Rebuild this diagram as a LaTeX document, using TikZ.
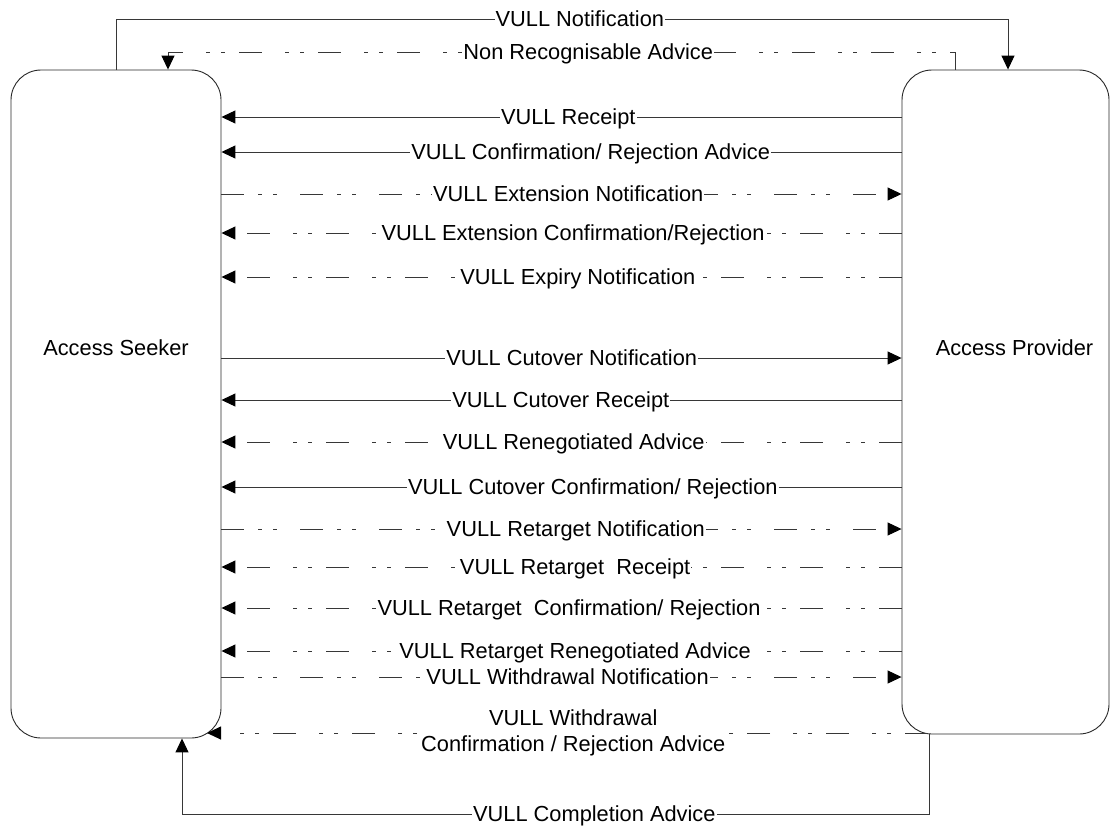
\documentclass[tikz,border=0pt]{standalone}
\usepackage{fontspec}
\setmainfont{Liberation Sans}
\usepackage{tikz}
\usetikzlibrary{arrows.meta,positioning}
\usepackage{xcolor}
\definecolor{linegray}{RGB}{55,55,55}
\definecolor{boxgray}{RGB}{40,40,40}
\tikzset{
  partybox/.style={draw=boxgray,rounded corners=30pt,line width=0.9pt,fill=white,inner sep=0pt},
  msgline/.style={-{Triangle[length=14pt,width=13pt,fill=black,color=black]},line width=1pt,draw=linegray},
  msgdash/.style={msgline,dash pattern=on 23pt off 14pt on 4pt off 11pt on 4pt off 23pt},
  lbl/.style={font=\fontsize{21.8}{26}\selectfont,fill=white,inner sep=1pt,text height=15.5pt,text depth=0pt},
  lbltwo/.style={font=\fontsize{21.8}{26}\selectfont,fill=white,inner sep=1pt,align=center}
}

\begin{document}
\begin{tikzpicture}[x=1pt,y=-1pt]
  \useasboundingbox (0,0) rectangle (1110,825);
  \node[partybox,minimum width=210pt,minimum height=668pt,
    label={[font=\fontsize{21.8}{26}\selectfont,yshift=56pt]center:Access Seeker}] (seeker) at (116,404) {};
  \node[partybox,minimum width=207pt,minimum height=664pt,
    label={[font=\fontsize{21.8}{26}\selectfont,yshift=54pt,xshift=9pt]center:Access Provider}] (provider) at (1005.5,402) {};
  \coordinate (wdstart) at (928,733);
  \coordinate (wdend) at (207,733);
  % around the top
  \draw[msgline] (seeker.north -| 116,0) -- (116,19) -- node[lbl,pos=0.52]{VULL Notification} (1008,19) -- (provider.north -| 1008,0);
  \draw[msgdash] (provider.north -| 955,0) -- (955,52) -- node[lbl,pos=0.466]{Non Recognisable Advice} (168,52) -- (seeker.north -| 168,0);
  % messages between the boxes
  \draw[msgline] (provider.west |- 0,117) -- node[lbl,pos=0.49]{VULL Receipt} (seeker.east |- 0,117);
  \draw[msgline] (provider.west |- 0,152) -- node[lbl,pos=0.457]{VULL Confirmation/ Rejection Advice} (seeker.east |- 0,152);
  \draw[msgdash] (seeker.east |- 0,194) -- node[lbl,pos=0.51]{VULL Extension Notification} (provider.west |- 0,194);
  \draw[msgdash] (provider.west |- 0,233) -- node[lbl,pos=0.483]{VULL Extension Confirmation/Rejection} (seeker.east |- 0,233);
  \draw[msgdash] (provider.west |- 0,277) -- node[lbl,pos=0.476]{VULL Expiry Notification} (seeker.east |- 0,277);
  \draw[msgline] (seeker.east |- 0,358) -- node[lbl,pos=0.515]{VULL Cutover Notification} (provider.west |- 0,358);
  \draw[msgline] (provider.west |- 0,400) -- node[lbl,pos=0.501]{VULL Cutover Receipt} (seeker.east |- 0,400);
  \draw[msgdash] (provider.west |- 0,442) -- node[lbl,pos=0.482]{VULL Renegotiated Advice} (seeker.east |- 0,442);
  \draw[msgline] (provider.west |- 0,487) -- node[lbl,pos=0.454]{VULL Cutover Confirmation/ Rejection} (seeker.east |- 0,487);
  \draw[msgdash] (seeker.east |- 0,529) -- node[lbl,pos=0.521]{VULL Retarget Notification} (provider.west |- 0,529);
  \draw[msgdash] (provider.west |- 0,567) -- node[lbl,pos=0.48]{VULL Retarget\ \ Receipt} (seeker.east |- 0,567);
  \draw[msgdash] (provider.west |- 0,608) -- node[lbl,pos=0.489]{VULL Retarget\ \ Confirmation/ Rejection} (seeker.east |- 0,608);
  \draw[msgdash] (provider.west |- 0,651) -- node[lbl,pos=0.48]{VULL Retarget Renegotiated Advice} (seeker.east |- 0,651);
  \draw[msgdash] (seeker.east |- 0,677) -- node[lbl,pos=0.509]{VULL Withdrawal Notification} (provider.west |- 0,677);
  \draw[msgdash] (wdstart) -- node[lbltwo,pos=0.492]{VULL Withdrawal\\Confirmation / Rejection Advice} (wdend);
  % around the bottom
  \draw[msgline] (provider.south -| 929,0) -- (929,814) -- node[lbl,pos=0.448]{VULL Completion Advice} (182,814) -- (seeker.south -| 182,0);
\end{tikzpicture}
\end{document}
